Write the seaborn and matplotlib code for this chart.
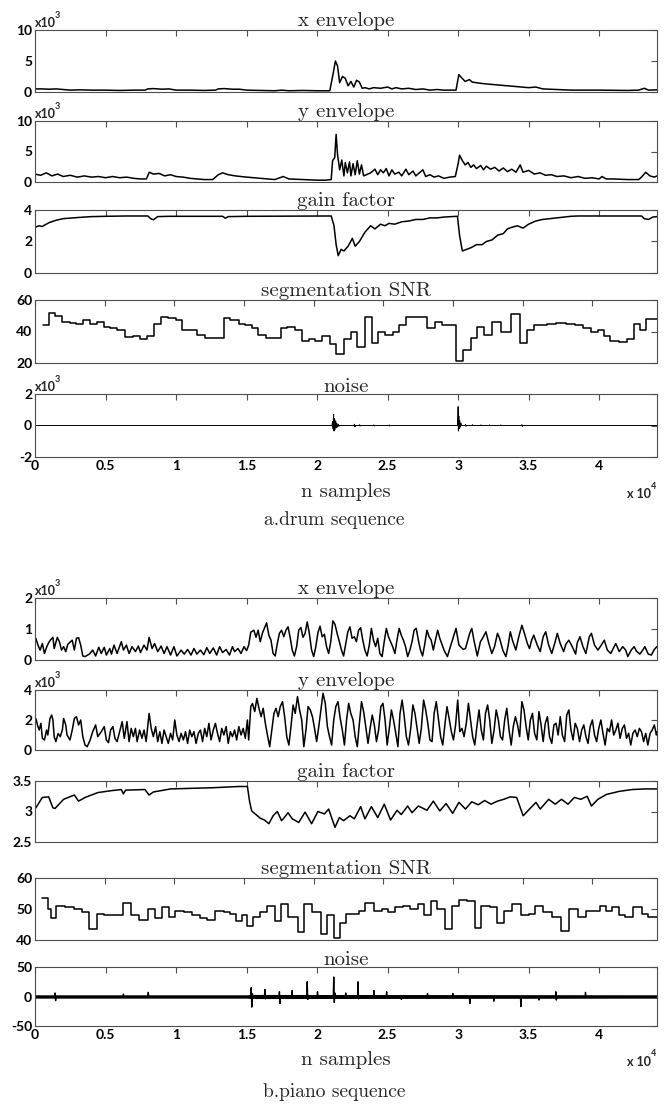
import numpy as np
import pandas as pd
import seaborn as sns
import matplotlib.pyplot as plt

sns.set_theme(style="white")
plt.rcParams["font.family"] = ["Lato", "DejaVu Sans"]

# ---------------- data (x in thousands of samples) ----------------
# a. drum sequence
drum_xenv_k = [0, 0.5, 1.0, 1.5, 2.0, 2.5, 3.2, 4, 5, 6, 7, 7.8, 8.0, 8.4, 9.0, 9.5, 10, 11, 12, 12.8,
               13.0, 13.4, 14, 14.5, 15, 16, 17, 17.5, 18, 19, 20, 20.9, 21.1, 21.3, 21.45, 21.6, 21.8, 22.0,
               22.2, 22.4, 22.6, 22.8, 23.0, 23.2, 23.4, 23.7, 24.0, 24.5, 25.0, 25.3, 25.6, 26.0, 26.5, 27.0,
               27.5, 28.0, 28.5, 29.0, 29.5, 29.85, 30.05, 30.2, 30.5, 30.8, 31.0, 31.3, 31.6, 32.0, 32.5, 33.0,
               33.5, 34.0, 34.5, 35.0, 35.5, 36.0, 37.0, 38.0, 40.0, 42.0, 42.8, 43.2, 43.5, 44.1]
drum_xenv = [0.5, 0.5, 0.45, 0.5, 0.4, 0.3, 0.35, 0.3, 0.3, 0.25, 0.3, 0.3, 0.5, 0.55, 0.45, 0.5, 0.3, 0.3, 0.25, 0.3,
             0.5, 0.55, 0.45, 0.45, 0.3, 0.25, 0.2, 0.3, 0.2, 0.25, 0.2, 0.2, 2.5, 5.0, 4.2, 1.5, 2.5, 2.2,
             1.0, 1.7, 0.8, 1.9, 1.6, 0.6, 0.7, 0.5, 0.7, 0.6, 0.8, 0.5, 0.7, 0.5, 0.6, 0.4,
             0.5, 0.3, 0.4, 0.3, 0.3, 0.3, 2.8, 2.4, 1.7, 2.0, 1.6, 1.5, 1.4, 1.3, 1.2, 1.1,
             1.0, 0.9, 0.8, 0.7, 0.8, 0.5, 0.4, 0.3, 0.3, 0.25, 0.3, 0.6, 0.3, 0.35]

drum_yenv_k = [0, 0.4, 0.8, 1.2, 1.6, 2.0, 2.5, 3.0, 3.5, 4.0, 4.5, 5.0, 5.5, 6.0, 6.5, 7.0, 7.5, 7.9, 8.1, 8.4,
               8.8, 9.2, 9.6, 10, 10.5, 11, 11.5, 12, 12.6, 13.0, 13.3, 13.7, 14.2, 15, 16, 17, 17.6, 18, 19, 20,
               20.6, 21.0, 21.1, 21.25, 21.35, 21.45, 21.6, 21.75, 21.9, 22.0, 22.15, 22.3, 22.4, 22.55, 22.7,
               22.85, 23.0, 23.15, 23.3, 23.5, 23.8, 24.1, 24.3, 24.5, 24.7, 24.9, 25.1, 25.3, 25.5, 25.8, 26.0,
               26.3, 26.5, 26.8, 27.0, 27.3, 27.5, 27.7, 28.0, 28.3, 28.6, 29.0, 29.4, 29.8, 30.0, 30.1, 30.3,
               30.5, 30.7, 30.9, 31.1, 31.3, 31.6, 31.8, 32.0, 32.3, 32.6, 32.9, 33.2, 33.5, 33.8, 34.1, 34.4,
               34.6, 35.0, 35.4, 35.8, 36.2, 36.6, 37.0, 37.5, 38.0, 38.5, 39.0, 39.5, 40.0, 40.2, 40.5, 41.0,
               42.0, 42.8, 43.0, 43.3, 43.6, 43.9, 44.1]
drum_yenv = [1.3, 1.1, 1.5, 1.0, 1.3, 0.9, 1.1, 0.8, 1.0, 0.8, 0.9, 0.7, 0.9, 0.7, 0.8, 0.6, 0.5, 0.5, 1.6, 1.3,
             1.4, 1.0, 1.2, 0.9, 0.8, 0.6, 0.5, 0.4, 0.4, 1.2, 1.5, 1.2, 1.0, 0.8, 0.6, 0.4, 0.9, 0.5, 0.4, 0.3,
             0.3, 0.4, 3.5, 4.0, 7.8, 4.5, 2.0, 3.6, 1.0, 3.2, 1.5, 3.3, 1.0, 3.0, 1.2,
             3.5, 1.3, 2.8, 1.0, 1.2, 1.5, 2.1, 1.2, 2.0, 1.5, 2.2, 1.0, 2.0, 1.3, 1.6, 1.0,
             2.1, 1.2, 1.8, 1.0, 1.6, 2.0, 0.9, 1.2, 0.8, 1.0, 0.6, 0.8, 0.9, 3.0, 4.4, 3.5,
             2.8, 3.2, 2.4, 2.8, 2.2, 2.7, 2.0, 2.6, 2.1, 2.4, 1.8, 2.3, 1.7, 2.1, 1.6, 2.8,
             1.6, 1.9, 1.3, 1.5, 1.1, 1.2, 0.9, 1.0, 0.7, 0.9, 0.6, 0.7, 0.5, 0.9, 0.5, 0.5,
             0.4, 0.4, 0.8, 1.6, 1.0, 0.8, 1.0]

drum_gain_k = [0, 0.3, 0.5, 1.0, 1.5, 2.0, 3.0, 4.0, 5.0, 6.5, 8.0, 8.2, 8.4, 8.7, 9.5, 13.3, 13.5, 13.7, 15, 21.0,
               21.2, 21.35, 21.5, 21.7, 21.9, 22.2, 22.5, 22.7, 23.0, 23.4, 23.8, 24.1, 24.5, 24.8, 25.1, 25.5,
               26.0, 26.5, 27.0, 27.5, 28.0, 28.5, 29.0, 29.5, 29.95, 30.1, 30.3, 30.6, 30.9, 31.3, 31.7, 32.0,
               32.4, 32.8, 33.2, 33.5, 33.8, 34.2, 34.6, 35.0, 35.5, 36.0, 37.0, 38.0, 38.5, 43.0, 43.2, 43.5,
               43.8, 44.1]
drum_gain = [2.9, 3.0, 2.95, 3.2, 3.35, 3.45, 3.52, 3.58, 3.6, 3.62, 3.62, 3.45, 3.38, 3.58, 3.6, 3.6, 3.48, 3.58, 3.6, 3.62,
             3.0, 1.8, 1.1, 1.5, 1.4, 1.7, 2.2, 1.7, 2.0, 2.6, 3.0, 2.8, 3.1, 3.0, 3.15, 3.1,
             3.25, 3.3, 3.4, 3.4, 3.5, 3.5, 3.55, 3.58, 3.6, 2.4, 1.4, 1.5, 1.6, 1.8, 1.8, 2.0,
             2.1, 2.4, 2.5, 2.8, 2.9, 3.0, 2.85, 3.1, 3.3, 3.4, 3.5, 3.6, 3.62, 3.62, 3.45, 3.4,
             3.55, 3.58]

drum_snr_k = [0.545, 1.0, 1.45, 1.91, 2.52, 2.97, 3.42, 3.97, 4.42, 4.94, 5.39, 5.85, 6.45, 7.06, 7.51, 8.03,
              8.51, 9.03, 9.54, 10.09, 10.54, 11.6, 12.21, 13.57, 14.03, 14.63, 15.09, 15.54, 15.99, 16.6,
              17.66, 18.12, 18.63, 19.18, 19.63, 20.09, 20.63, 21.15, 21.6, 22.21, 22.66, 23.12, 23.66,
              24.18, 24.63, 25.09, 25.7, 26.15, 26.6, 28.12, 28.72, 29.18, 30.24, 30.75, 31.3, 31.75,
              32.21, 32.81, 33.42, 34.18, 34.78, 35.3, 35.84, 36.75, 37.36, 38.11, 38.72, 39.33, 39.93,
              40.39, 40.84, 41.3, 41.9, 42.51, 42.96, 43.41, 43.87, 44.64]
drum_snr = [44, 51.5, 50, 46, 45.5, 44.5, 47, 44.5, 46, 43, 42, 41, 36.5, 37, 35.5, 37,
            45, 49.5, 48.5, 47.5, 41, 38, 36, 48.5, 47, 45, 44, 42, 38, 36,
            42, 43, 41, 34, 35, 34, 37, 32, 26, 35, 40, 30, 49,
            33, 40, 38, 40, 44, 49, 42, 46, 44, 21, 28, 36, 43,
            38, 46, 40, 51, 33, 41, 44, 44.5, 45.5, 45, 44, 42, 40,
            41, 37, 34, 33.5, 35, 45, 41, 48, 48]

drum_noise_k = [0, 21.05, 21.1, 21.13, 21.17, 21.2, 21.24, 21.28, 21.32, 21.36, 21.4, 21.45, 21.5, 21.55, 21.6,
                22.6, 22.65, 22.68, 22.72, 23.0, 23.02, 23.05, 23.08, 24.0, 24.02, 24.05, 24.08, 25.1, 25.12,
                25.15, 25.18, 29.95, 29.98, 30.0, 30.02, 30.05, 30.08, 30.12, 30.16, 30.2, 30.25, 30.5, 30.52,
                30.55, 30.58, 31.0, 31.02, 31.05, 31.6, 31.62, 31.65, 32.2, 32.22, 32.25, 33.0, 33.02, 33.05,
                34.5, 34.52, 34.55, 34.58, 44.1]
drum_noise = [0, 0, 0.25, -0.2, 0.7, -0.35, 0.45, -0.25, 0.3, -0.15, 0.15, -0.1, 0.08, -0.05, 0,
              0, 0.08, -0.08, 0, 0, 0.05, -0.04, 0, 0, 0.04, -0.03, 0, 0, 0.04,
              -0.03, 0, 0, 0.5, 1.2, -0.35, 0.6, -0.2, 0.3, -0.1, 0.15, 0, 0, 0.06,
              -0.05, 0, 0, 0.05, 0, 0, 0.04, 0, 0, 0.04, 0, 0, 0.04, 0,
              0, 0.05, -0.05, 0, 0]

# b. piano sequence
piano_xenv_k = [0.06, 0.21, 0.36, 0.52, 0.67, 0.82, 0.97, 1.12, 1.27, 1.36, 1.58, 1.73, 1.88, 2.03, 2.18, 2.33,
                2.64, 2.79, 2.94, 3.09, 3.24, 3.39, 3.55, 3.85, 4.09, 4.3, 4.52, 4.7, 4.91, 5.06, 5.3, 5.42,
                5.6, 5.82, 6.12, 6.27, 6.48, 6.67, 6.88, 7.12, 7.33, 7.48, 7.73, 7.94, 8.09, 8.3, 8.48, 8.7,
                8.94, 9.15, 9.36, 9.61, 9.85, 10.06, 10.36, 10.58, 10.82, 11.06, 11.27, 11.48, 11.73, 11.97,
                12.18, 12.39, 12.64, 12.88, 13.09, 13.3, 13.55, 13.79, 14.0, 14.15, 14.39, 14.61, 14.82, 15.0,
                15.15, 15.3, 15.52, 15.67, 15.82, 15.97, 16.12, 16.42, 16.58, 16.73, 16.88, 17.03, 17.18,
                17.33, 17.48, 17.64, 17.79, 17.94, 18.09, 18.24, 18.39, 18.55, 18.7, 18.85, 19.0, 19.15,
                19.3, 19.45, 19.61, 19.76, 19.91, 20.06, 20.21, 20.36, 20.52, 20.67, 20.82, 20.97, 21.12,
                21.27, 21.42, 21.58, 21.73, 21.88, 22.03, 22.18, 22.33, 22.48, 22.64, 22.79, 22.94, 23.09,
                23.24, 23.39, 23.55, 23.7, 23.85, 24.0, 24.15, 24.3, 24.45, 24.61, 24.76, 24.91, 25.06,
                25.21, 25.36, 25.52, 25.67, 25.82, 25.97, 26.12, 26.27, 26.42, 26.58, 26.73, 26.88, 27.03,
                27.18, 27.33, 27.48, 27.64, 27.79, 27.94, 28.09, 28.24, 28.39, 28.55, 28.7, 29.0, 29.24,
                29.45, 29.67, 29.85, 30.06, 30.36, 30.52, 30.82, 30.97, 31.12, 31.36, 31.58, 31.73, 31.97,
                32.18, 32.39, 32.58, 32.79, 32.94, 33.18, 33.39, 33.55, 33.7, 33.85, 34.09, 34.3, 34.52,
                34.7, 34.91, 35.06, 35.21, 35.36, 35.61, 35.82, 36.03, 36.21, 36.42, 36.64, 36.88, 37.03,
                37.24, 37.48, 37.64, 37.85, 38.09, 38.33, 38.45, 38.64, 38.85, 39.06, 39.3, 39.45, 39.67,
                39.91, 40.15, 40.36, 40.58, 40.82, 41.06, 41.18, 41.42, 41.67, 41.88, 42.03, 42.27, 42.48,
                42.64, 42.88, 43.09, 43.24, 43.48, 43.7, 43.91, 44.09]
piano_xenv = [0.7, 0.48, 0.32, 0.53, 0.21, 0.41, 0.56, 0.66, 0.73, 0.37, 0.73, 0.59, 0.32, 0.43, 0.27, 0.51,
              0.64, 0.32, 0.7, 0.72, 0.48, 0.13, 0.11, 0.19, 0.32, 0.13, 0.41, 0.21, 0.41, 0.16, 0.37, 0.19,
              0.48, 0.21, 0.59, 0.32, 0.48, 0.21, 0.43, 0.27, 0.45, 0.24, 0.48, 0.32, 0.73, 0.37, 0.53, 0.27,
              0.45, 0.21, 0.43, 0.16, 0.43, 0.13, 0.32, 0.19, 0.34, 0.16, 0.37, 0.19, 0.32, 0.17,
              0.4, 0.21, 0.39, 0.16, 0.43, 0.24, 0.34, 0.16, 0.43, 0.27, 0.37, 0.21, 0.43, 0.3,
              0.48, 0.9, 0.96, 0.73, 0.96, 0.59, 0.86, 1.2, 0.8, 0.64, 0.21, 0.13, 0.53,
              0.86, 0.96, 0.75, 0.96, 1.07, 0.73, 0.32, 0.13, 0.43, 0.96, 1.05, 0.73, 0.86,
              1.23, 0.86, 0.32, 0.11, 0.43, 0.88, 1.09, 0.75, 0.83, 0.43, 0.21, 0.59, 1.26,
              1.15, 0.86, 0.59, 0.32, 0.13, 0.53, 0.91, 1.07, 0.7, 0.75, 0.59, 0.96, 1.04,
              0.64, 0.32, 0.13, 0.48, 1.02, 0.64, 0.43, 0.7, 0.21, 0.11, 0.59, 1.02, 0.75,
              0.59, 0.43, 0.21, 0.66, 1.02, 0.8, 0.64, 0.43, 0.11, 0.32, 0.59, 0.96, 1.02,
              0.64, 0.32, 0.13, 0.53, 0.96, 0.75, 0.64, 0.32, 0.64, 0.96, 0.7, 0.32, 0.11,
              0.43, 0.75, 1.02, 0.48, 0.34, 0.37, 0.86, 1.02, 0.64, 0.13, 0.59, 0.7, 0.91,
              0.53, 0.21, 0.43, 0.86, 0.7, 0.3, 0.11, 0.48, 0.91, 0.64, 0.32, 0.75, 1.12,
              0.86, 0.53, 0.37, 0.64, 0.8, 0.48, 0.27, 0.75, 0.91, 0.48, 0.21, 0.59, 0.86,
              0.53, 0.27, 0.51, 0.64, 0.43, 0.19, 0.56, 0.75, 0.43, 0.21, 0.75, 0.86, 0.48,
              0.32, 0.48, 0.64, 0.32, 0.21, 0.43, 0.53, 0.27, 0.43, 0.32, 0.11, 0.32, 0.43,
              0.29, 0.19, 0.32, 0.43, 0.19, 0.16, 0.34, 0.43]

piano_yenv_k = [0.06, 0.21, 0.30, 0.42, 0.52, 0.67, 0.82, 0.91, 1.06, 1.18, 1.27, 1.36, 1.48, 1.64, 1.79, 1.94,
                2.03, 2.18, 2.27, 2.48, 2.64, 2.79, 2.94, 3.09, 3.24, 3.39, 3.55, 3.70, 3.91, 4.09, 4.30, 4.45,
                4.70, 4.91, 5.06, 5.21, 5.36, 5.52, 5.67, 5.82, 5.97, 6.18, 6.33, 6.52, 6.67, 6.82, 6.97, 7.12,
                7.24, 7.42, 7.58, 7.73, 7.88, 8.09, 8.24, 8.39, 8.55, 8.70, 8.85, 9.00, 9.15, 9.30, 9.45, 9.61,
                9.76, 9.91, 10.06, 10.21, 10.36, 10.52, 10.67, 10.82, 10.97, 11.12, 11.27, 11.42, 11.58, 11.73,
                11.88, 12.03, 12.18, 12.33, 12.48, 12.64, 12.79, 12.94, 13.09, 13.24, 13.39, 13.55, 13.70,
                13.85, 14.0, 14.15, 14.30, 14.45, 14.61, 14.76, 14.91, 15.06, 15.15, 15.30, 15.42, 15.58,
                15.73, 15.88, 16.03, 16.18, 16.33, 16.48, 16.64, 16.79, 16.94, 17.09, 17.24, 17.39, 17.55,
                17.70, 17.85, 18.0, 18.15, 18.30, 18.45, 18.61, 18.76, 18.91, 19.06, 19.21, 19.36, 19.52,
                19.67, 19.82, 19.97, 20.12, 20.27, 20.42, 20.58, 20.73, 20.88, 21.03, 21.18, 21.33, 21.48,
                21.64, 21.79, 21.94, 22.09, 22.24, 22.39, 22.55, 22.70, 22.85, 23.0, 23.15, 23.30, 23.45,
                23.61, 23.76, 23.91, 24.06, 24.21, 24.36, 24.52, 24.67, 24.82, 24.97, 25.12, 25.27, 25.42,
                25.58, 25.73, 25.88, 26.03, 26.18, 26.33, 26.48, 26.64, 26.79, 26.94, 27.09, 27.24, 27.39,
                27.55, 27.70, 27.85, 28.0, 28.15, 28.30, 28.45, 28.61, 28.76, 28.91, 29.06, 29.21, 29.36,
                29.52, 29.67, 29.82, 29.97, 30.12, 30.27, 30.42, 30.58, 30.73, 30.88, 31.03, 31.18, 31.33,
                31.48, 31.64, 31.79, 31.94, 32.09, 32.24, 32.39, 32.55, 32.70, 32.85, 33.0, 33.15, 33.30,
                33.45, 33.61, 33.76, 33.91, 34.06, 34.21, 34.36, 34.52, 34.67, 34.82, 34.97, 35.12, 35.27,
                35.42, 35.58, 35.73, 35.88, 36.03, 36.18, 36.33, 36.48, 36.64, 36.79, 36.94, 37.09, 37.24,
                37.39, 37.55, 37.70, 37.85, 38.0, 38.15, 38.30, 38.45, 38.61, 38.76, 38.91, 39.06, 39.21,
                39.36, 39.52, 39.67, 39.82, 39.97, 40.12, 40.27, 40.42, 40.58, 40.73, 40.88, 41.03, 41.18,
                41.33, 41.48, 41.64, 41.79, 41.94, 42.09, 42.24, 42.39, 42.55, 42.70, 42.85, 43.0, 43.15,
                43.30, 43.45, 43.61, 43.76, 43.91, 44.06, 44.1]
piano_yenv = [2.1, 1.55, 1.33, 1.78, 0.78, 0.67, 1.33, 1.0, 2.1, 2.33, 2.0, 0.89, 0.56, 1.1, 0.89, 1.33,
              2.1, 1.67, 1.0, 0.67, 1.33, 2.1, 2.22, 1.67, 2.0, 0.89, 0.33, 0.22, 0.67, 1.22, 1.67, 0.89,
              1.22, 1.56, 0.67, 0.49, 1.33, 1.56, 0.78, 0.56, 1.11, 1.89, 0.78, 1.89, 0.56, 1.44, 0.89, 1.44,
              0.56, 1.33, 0.78, 1.33, 0.56, 2.44, 1.44, 0.89, 1.56, 0.56, 1.22, 0.44, 1.33, 0.89, 0.44, 1.11,
              0.67, 2.0, 1.0, 0.56, 1.11, 0.67, 1.22, 0.44, 1.33, 0.89, 1.22, 0.44, 1.11, 1.33,
              0.56, 1.44, 0.89, 1.78, 0.67, 1.33, 1.78, 1.11, 0.56, 1.44, 1.0, 1.56, 0.44,
              1.22, 0.89, 1.33, 0.67, 1.56, 1.0, 1.44, 0.78, 2.0, 0.67, 2.9, 3.1, 2.56,
              3.44, 2.78, 2.22, 2.78, 1.78, 1.0, 0.22, 1.33, 2.44, 2.78, 2.22, 2.9, 3.22,
              2.22, 0.89, 0.33, 1.56, 3.0, 2.44, 3.56, 2.67, 2.0, 0.22, 1.33, 2.9, 2.67,
              2.22, 1.44, 0.56, 1.56, 2.67, 3.78, 3.11, 1.56, 0.89, 0.33, 2.0, 2.9, 3.22,
              2.11, 1.33, 0.33, 2.0, 3.11, 2.44, 2.0, 0.89, 0.22, 1.78, 3.22, 2.56, 1.56,
              0.44, 1.44, 2.33, 1.67, 0.56, 1.33, 2.89, 3.11, 2.0, 0.33, 1.44, 2.67, 2.0,
              1.11, 0.22, 2.44, 3.33, 2.22, 0.89, 0.33, 1.44, 3.0, 2.44, 1.44, 0.44, 1.44,
              3.33, 2.67, 1.78, 0.67, 0.56, 2.44, 3.22, 2.0, 0.89, 0.33, 1.67, 2.89, 2.11,
              1.22, 0.67, 1.67, 3.33, 1.22, 1.44, 0.89, 1.78, 3.11, 2.0, 0.89, 0.33, 1.56,
              2.67, 1.33, 0.67, 2.44, 3.0, 2.0, 0.44, 1.33, 2.67, 2.0, 0.89, 0.67, 2.0,
              2.78, 1.33, 0.33, 1.56, 2.22, 1.67, 0.89, 3.22, 2.67, 1.56, 0.67, 2.0, 2.44,
              1.11, 0.67, 2.56, 1.67, 0.56, 1.78, 2.22, 0.89, 0.44, 1.67, 1.78, 1.0, 2.22,
              1.0, 0.56, 2.33, 2.67, 1.33, 0.67, 1.78, 1.44, 0.56, 1.33, 1.67, 0.89, 0.44,
              1.56, 2.0, 1.0, 0.56, 1.44, 2.0, 1.11, 0.33, 1.44, 1.22, 2.0, 1.0, 1.33,
              1.78, 0.78, 1.44, 1.67, 0.78, 1.11, 0.33, 1.11, 1.33, 0.89, 1.44, 1.22, 0.56,
              1.11, 0.33, 1.11, 1.33, 1.67, 1.0, 1.22]

piano_gain_k = [0.06, 0.52, 0.97, 1.27, 1.42, 2.03, 2.79, 3.09, 3.55, 4.45, 5.36, 6.12, 6.27, 6.42, 7.79, 8.09,
                8.39, 9.61, 11.12, 12.64, 14.45, 15.06, 15.21, 15.36, 15.61, 15.97, 16.27, 16.58, 16.88, 17.18,
                17.48, 17.64, 17.94, 18.24, 18.7, 19.15, 19.61, 20.06, 20.52, 20.82, 21.27, 21.58, 21.88, 22.33,
                22.64, 23.09, 23.39, 23.85, 24.3, 24.76, 25.21, 25.67, 25.97, 26.42, 26.73, 27.18, 27.79, 28.24,
                28.7, 29.15, 29.61, 30.06, 30.52, 30.97, 31.42, 31.88, 32.33, 32.79, 33.24, 33.7, 34.15, 34.61,
                35.06, 35.52, 35.82, 36.42, 36.88, 37.33, 37.79, 38.24, 38.7, 39.15, 39.45, 39.91, 40.52, 41.42,
                42.33, 43.24, 44.1]
piano_gain = [3.06, 3.23, 3.24, 3.06, 3.05, 3.2, 3.27, 3.17, 3.23, 3.31, 3.34, 3.36, 3.29, 3.35, 3.36, 3.27,
              3.32, 3.37, 3.38, 3.39, 3.41, 3.41, 3.17, 3.01, 2.96, 2.89, 2.86, 2.8, 2.93, 3.0,
              2.85, 2.89, 2.98, 2.88, 2.82, 2.99, 2.8, 3.0, 2.96, 3.04, 2.74, 2.9, 2.85, 2.93,
              2.88, 3.08, 2.88, 3.08, 2.9, 3.12, 2.86, 3.02, 2.95, 3.09, 2.98, 3.09, 3.02, 3.17,
              3.01, 3.13, 2.97, 3.15, 3.04, 3.16, 3.11, 3.18, 3.12, 3.17, 3.2, 3.24, 3.23, 2.93,
              3.04, 3.15, 3.04, 3.2, 3.12, 3.2, 3.12, 3.23, 3.2, 3.25, 3.09, 3.2, 3.28, 3.33,
              3.36, 3.37, 3.37]

piano_snr_k = [0.52, 0.91, 1.13, 1.52, 2.13, 2.79, 3.34, 3.91, 4.46, 4.97, 6.28, 6.88, 7.49, 8.1, 8.61, 9.1,
               9.61, 10.07, 10.67, 11.28, 11.82, 12.34, 12.94, 13.55, 14.0, 14.46, 14.85, 15.22, 15.67, 16.13,
               16.67, 17.19, 17.64, 18.19, 18.85, 19.31, 19.91, 20.52, 20.97, 21.43, 21.88, 22.34, 23.24,
               23.7, 24.31, 24.91, 25.37, 25.82, 26.43, 26.88, 27.49, 27.94, 28.4, 28.85, 29.46, 29.91,
               30.43, 30.97, 31.58, 32.03, 32.64, 33.15, 33.64, 34.24, 34.85, 35.45, 35.91, 36.45, 37.12,
               37.73, 38.33, 38.94, 39.55, 40.52, 40.97, 41.43, 41.88, 42.34, 42.94, 43.55, 44.0, 44.64]
piano_snr = [53.5, 50, 47, 51, 50.5, 50, 49, 43.5, 48.5, 48, 52, 48, 46.5, 50, 47, 50.5,
             47.5, 49.5, 49, 48, 47, 46.5, 49.5, 49, 48.5, 46, 48, 44.5, 47.5, 49,
             51, 46, 51.5, 47.5, 42.5, 51.5, 49, 42, 48, 40.5, 45.5, 48.5, 49.5,
             52, 49.5, 50, 49, 50.5, 51, 50, 51.5, 48, 52.5, 50, 43.5, 51,
             53, 52.5, 44, 51, 50.5, 45.5, 49.5, 51.5, 48, 48.5, 51, 49, 47.5,
             43, 50, 47.5, 49.5, 51, 49.5, 50.5, 48, 47.5, 50.5, 48.5, 47.5, 47.5]

# noise band half-width and the larger spikes of the piano residual
piano_band_k = [0, 15.0, 15.3, 30.0, 44.1]
piano_band = [2.8, 2.8, 3.5, 3.2, 2.8]
piano_spike_k = [0, 1.38, 1.42, 1.46, 1.5, 6.24, 6.27, 6.3, 8.0, 8.03, 8.06, 15.3, 15.33, 15.37, 15.41, 15.45,
                 16.27, 16.3, 16.34, 16.38, 17.3, 17.33, 17.37, 17.41, 18.2, 18.23, 18.27, 18.3, 19.27, 19.3,
                 19.34, 19.38, 20.0, 20.03, 20.06, 21.15, 21.18, 21.22, 21.26, 21.3, 22.0, 22.03, 22.06, 22.87,
                 22.9, 22.94, 22.98, 24.0, 24.03, 24.06, 24.9, 24.93, 24.96, 25.95, 25.98, 26.01, 27.8, 27.83,
                 27.86, 29.6, 29.63, 29.66, 30.8, 30.83, 30.86, 32.5, 32.53, 32.56, 34.42, 34.45, 34.48, 35.7,
                 35.73, 35.76, 36.9, 36.93, 36.96, 37.0, 39.0, 39.03, 39.06, 44.1]
piano_spike = [0, 0, 6, -7, 0, 0, 4, 0, 0, 7, 0, 0, 15, -18, 5, 0,
               0, 12, -4, 0, 0, 8, -12, 0, 0, 10, -3, 0, 0, 25,
               -5, 0, 0, 8, 0, 0, 33, -10, 6, 0, 0, 6, 0, 0,
               25, -4, 0, 0, 10, 0, 0, 8, 0, 0, -5, 0, 0, 5,
               0, 0, 5, 0, 0, -12, 0, 0, -8, 0, 0, -17, 0, 0,
               -6, 0, 0, 8, -6, 0, 0, 7, 0, 0]

xtick_vals = [0, 0.5, 1, 1.5, 2, 2.5, 3, 3.5, 4]  # x 10^4

# ---------------- layout (pixel rows of each axes: top, bottom) ----------------
W, H = 667, 1104
fig = plt.figure(figsize=(W / 100, H / 100), dpi=100)
LEFT, RIGHT = 35, 657


def make_ax(top, bottom):
    return fig.add_axes([LEFT / W, 1 - bottom / H, (RIGHT - LEFT) / W, (bottom - top) / H])


def style(ax, title, ylim, yticks, ytl, xlim=(0, 44100), xlabels=False, scale=None):
    ax.set_xlim(*xlim)
    ax.set_ylim(*ylim)
    ax.set_yticks(yticks)
    ax.set_yticklabels(ytl, fontsize=10, fontweight="bold")
    ax.set_xticks([v * 10000 for v in xtick_vals])
    if xlabels:
        ax.set_xticklabels([f"{v:g}" for v in xtick_vals], fontsize=10, fontweight="bold")
    else:
        ax.set_xticklabels([])
    ax.tick_params(direction="in", length=4, width=0.8, color="0.3", top=True, right=True,
                   pad=2, labelcolor="black")
    for s in ax.spines.values():
        s.set_color("0.3")
        s.set_linewidth(0.8)
        s.set_visible(True)
    ax.set_xlabel("")
    ax.set_ylabel("")
    ax.set_title(title, fontsize=15, family="cmr10", pad=1.5)
    if scale:
        ax.text(0.0, 1.02, "x10", transform=ax.transAxes, fontsize=9, fontweight="bold",
                ha="left", va="bottom")
        ax.text(0.031, 1.16, scale, transform=ax.transAxes, fontsize=6.5, fontweight="bold",
                ha="left", va="bottom")


def line(ax, xk, y, steps=False, lw=1.1):
    df = pd.DataFrame({"n": np.asarray(xk) * 1000.0, "v": y})
    kw = {"drawstyle": "steps-post"} if steps else {}
    sns.lineplot(data=df, x="n", y="v", ax=ax, color="black", linewidth=lw,
                 estimator=None, sort=False, **kw)


# a. drum sequence
ax = make_ax(30, 92)
line(ax, drum_xenv_k, drum_xenv)
style(ax, "x envelope", (0, 10), [0, 5, 10], ["0", "5", "10"], scale="3")

ax = make_ax(121, 182)
line(ax, drum_yenv_k, drum_yenv)
style(ax, "y envelope", (0, 10), [0, 5, 10], ["0", "5", "10"], scale="3")

ax = make_ax(210, 273)
line(ax, drum_gain_k, drum_gain)
style(ax, "gain factor", (0, 4), [0, 2, 4], ["0", "2", "4"])

ax = make_ax(300, 363)
line(ax, drum_snr_k, drum_snr, steps=True)
style(ax, "segmentation SNR", (20, 60), [20, 40, 60], ["20", "40", "60"], xlim=(540, 44640))

ax = make_ax(394, 457)
line(ax, drum_noise_k, drum_noise, lw=0.7)
style(ax, "noise", (-2, 2), [-2, 0, 2], ["-2", "0", "2"], xlabels=True, scale="3")

# b. piano sequence
ax = make_ax(598, 660)
line(ax, piano_xenv_k, piano_xenv)
style(ax, "x envelope", (0, 2), [0, 1, 2], ["0", "1", "2"], scale="3")

ax = make_ax(690, 750)
line(ax, piano_yenv_k, piano_yenv)
style(ax, "y envelope", (0, 4), [0, 2, 4], ["0", "2", "4"], scale="3")

ax = make_ax(781, 842)
line(ax, piano_gain_k, piano_gain)
style(ax, "gain factor", (2.5, 3.5), [2.5, 3, 3.5], ["2.5", "3", "3.5"])

ax = make_ax(878, 940)
line(ax, piano_snr_k, piano_snr, steps=True)
style(ax, "segmentation SNR", (40, 60), [40, 50, 60], ["40", "50", "60"], xlim=(540, 44640))

ax = make_ax(967, 1026)
bx = np.asarray(piano_band_k) * 1000.0
ax.fill_between(bx, [-b for b in piano_band], piano_band, color="black", linewidth=0)
line(ax, piano_spike_k, piano_spike, lw=1.0)
style(ax, "noise", (-50, 50), [-50, 0, 50], ["-50", "0", "50"], xlabels=True)

# labels below each block
for y_lab, y_cap, cap in [(492, 520, "a.drum sequence"), (1060, 1092, "b.piano sequence")]:
    fig.text(346 / W, 1 - y_lab / H, "n samples", family="cmr10", fontsize=15, ha="center", va="center")
    fig.text(627 / W, 1 - (y_lab + 2) / H, "x 10", fontsize=9, fontweight="bold", ha="left", va="center")
    fig.text(651 / W, 1 - (y_lab - 6) / H, "4", fontsize=6.5, fontweight="bold", ha="left", va="center")
    fig.text(334 / W, 1 - y_cap / H, cap, family="cmr10", fontsize=14, ha="center", va="center")

fig.savefig("out.png", dpi=100)
